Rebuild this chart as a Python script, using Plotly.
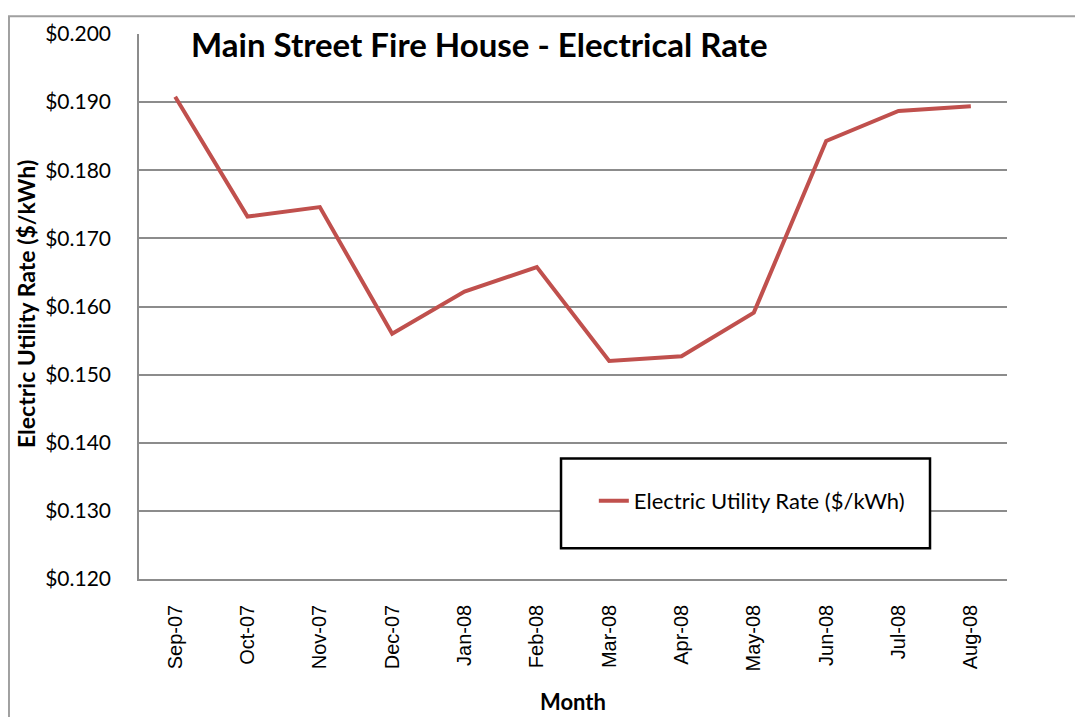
import plotly.graph_objects as go

# Monthly electric utility rate, Sep-07 .. Aug-08
months = ["Sep-07", "Oct-07", "Nov-07", "Dec-07", "Jan-08", "Feb-08",
          "Mar-08", "Apr-08", "May-08", "Jun-08", "Jul-08", "Aug-08"]
rates = [0.1908, 0.1732, 0.1746, 0.1560, 0.1622, 0.1658,
         0.1520, 0.1527, 0.1591, 0.1843, 0.1887, 0.1894]

y_ticks = [0.12, 0.13, 0.14, 0.15, 0.16, 0.17, 0.18, 0.19, 0.20]

FONT = "Lato"
GRID = "#8c8c8c"

fig = go.Figure()
fig.add_trace(go.Scatter(
    x=months, y=rates, mode="lines",
    name="Electric Utility Rate ($/kWh)",
    line=dict(color="#C0504D", width=4),
))

# page body adds an 8px offset, so margins are trimmed by 8
fig.update_layout(
    width=1075, height=709,
    margin=dict(l=131, r=76, t=19, b=138),
    paper_bgcolor="white", plot_bgcolor="white",
    font=dict(family=FONT, size=18, color="black"),
    showlegend=True,
    legend=dict(
        x=0.524, y=0.143, xanchor="left", yanchor="middle",
        bgcolor="rgba(0,0,0,0)", borderwidth=0,
        font=dict(family=FONT, size=22, color="black"),
    ),
)

fig.update_xaxes(
    type="category", range=[-0.5, 11.5],
    showgrid=False, showline=True, linecolor=GRID, linewidth=1.5,
    ticks="", tickangle=-90, ticklabelstandoff=16,
    tickfont=dict(family="Liberation Sans", size=20, color="black"),
)
fig.update_yaxes(
    range=[0.12, 0.20], tickvals=y_ticks, tickformat="$.3f",
    showgrid=True, gridcolor=GRID, gridwidth=1.5,
    showline=True, linecolor=GRID, linewidth=1.5,
    zeroline=False, ticks="", ticklabelstandoff=22,
    tickfont=dict(family=FONT, size=21, color="black"),
)

# legend box (white, black border) and outer chart border
fig.add_shape(type="rect", xref="paper", yref="paper",
              x0=0.4862, x1=0.9113, y0=0.0562, y1=0.221,
              line=dict(color="black", width=2.5), fillcolor="white", layer="above")
fig.add_shape(type="rect", xref="paper", yref="paper",
              x0=-0.1498, x1=1.2, y0=-0.4, y1=1.0326,
              line=dict(color="#a0a0a0", width=2), layer="below")

fig.add_annotation(text="<b>Main Street Fire House - Electrical Rate</b>",
                   xref="paper", yref="paper", x=0.0575, y=0.982,
                   xanchor="left", yanchor="middle", showarrow=False,
                   font=dict(family=FONT, size=33, color="black"))
fig.add_annotation(text="<b>Electric Utility Rate ($/kWh)</b>",
                   xref="paper", yref="paper", x=-0.131, y=0.505,
                   xanchor="center", yanchor="middle", textangle=-90, showarrow=False,
                   font=dict(family=FONT, size=23, color="black"))
fig.add_annotation(text="<b>Month</b>",
                   xref="paper", yref="paper", x=0.5, y=-0.2246,
                   xanchor="center", yanchor="middle", showarrow=False,
                   font=dict(family=FONT, size=22, color="black"))

fig.write_html("out.html")
